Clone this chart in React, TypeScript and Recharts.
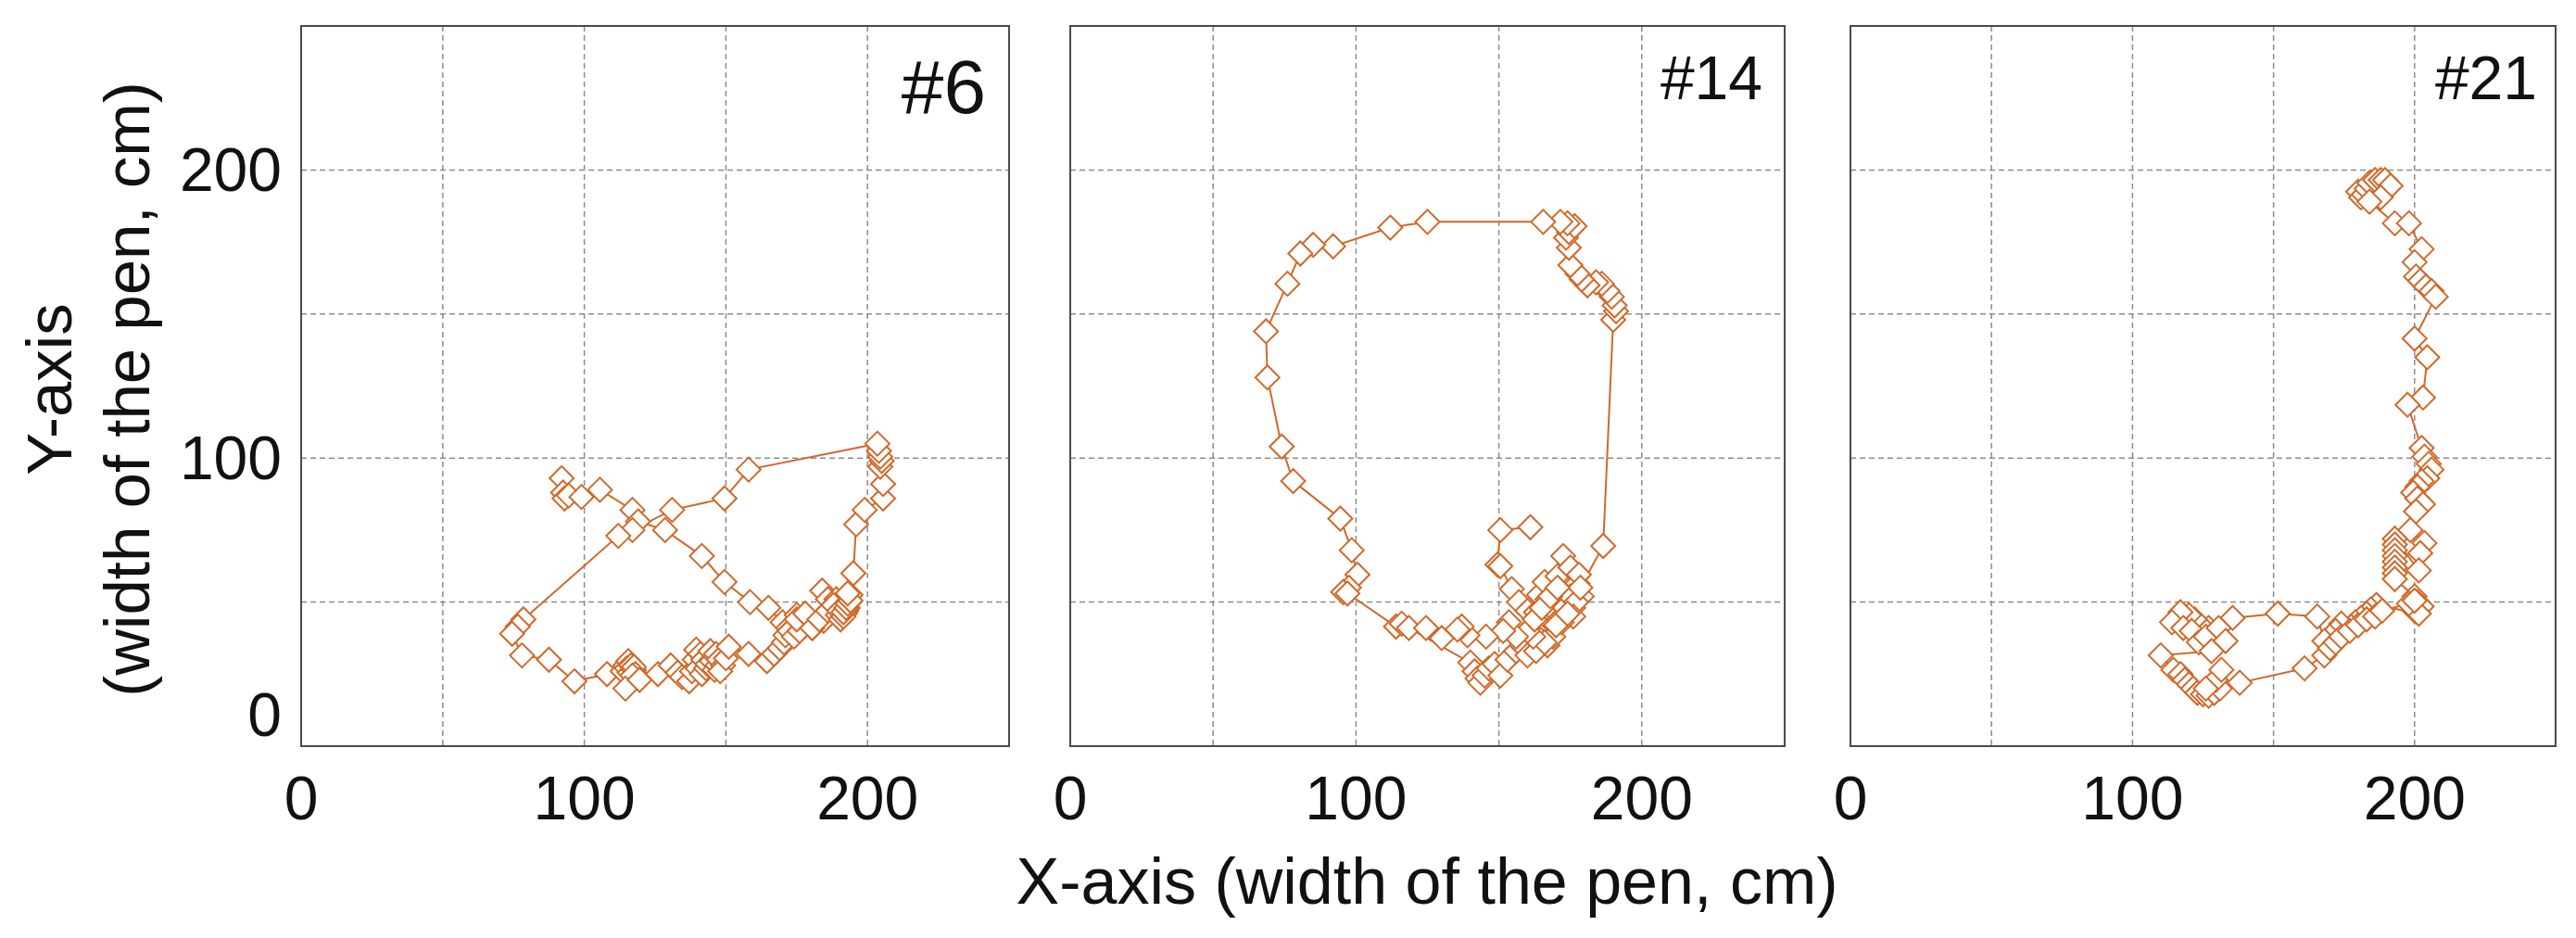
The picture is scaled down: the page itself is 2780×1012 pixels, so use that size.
import React from "react"
import { ScatterChart, Scatter, XAxis, YAxis, CartesianGrid, ReferenceArea } from "recharts"

const ORANGE = "#D0692A"
const FONT = "'Liberation Sans', Arial, Helvetica, sans-serif"

// axis ticks (grid every 50, labels every 100)
const axisTicks = [0, 50, 100, 150, 200, 250]
const labelledTicks = [0, 100, 200]

const panelNames = ["#6", "#14", "#21"]

// pen trajectories, [x, y] in cm in drawing order
const track6: [number, number][] = [
  [92, 93], [92.5, 88], [93, 86], [94.5, 87], [99, 86.5], [105.5, 89], [117, 82], [119, 78],
  [128.5, 75], [141.5, 66], [149.5, 57], [158.5, 50], [165, 48],
  [170, 43], [172, 41], [175, 45.5], [177, 42], [180.5, 41], [184.5, 43.5], [184, 54], [186, 51],
  [189, 51], [191, 49], [192.5, 47], [193.5, 50], [194, 52.5], [193, 48], [192, 46], [195, 60],
  [196, 77], [199, 82], [205.5, 86], [205.5, 91], [204.5, 97], [205, 99], [204.5, 100.5],
  [204, 102.5], [203.5, 105],
  [158, 96], [149.5, 86], [131, 82], [117, 75], [112, 73],
  [78.5, 44], [76.5, 41.5], [74.5, 39], [78, 31.5], [87.5, 30], [96.5, 22.5], [108, 25],
  [113.5, 26], [114.5, 28], [115.5, 29.5], [115, 27], [116.5, 28], [116, 25.5], [117.5, 26.5],
  [117.5, 27.5], [118, 25], [117, 24.5], [114.5, 20],
  [119.5, 23], [126, 25], [130.5, 28], [133, 25.5], [134.5, 24], [137, 22.5],
  [138, 26], [139, 30], [140, 27], [139.5, 33.5], [141, 32], [141.5, 25], [142, 30], [143, 27],
  [143.5, 28.5], [145, 29.5], [144.5, 33], [146, 26.5], [146.5, 32], [147, 28], [147.5, 30],
  [149, 28], [148, 26], [150, 30.5], [151, 34.5],
  [158, 32], [164.5, 29.5],
  [167, 32], [169, 34], [170.5, 36], [171, 38.5], [172.5, 40], [174, 38], [176, 40], [175, 44],
  [178, 46], [180.5, 41], [183, 44], [186, 47], [188, 49], [189.5, 45.5], [190, 47],
  [190.5, 44], [191.5, 45], [191.5, 46.5], [192.5, 48], [193, 49.5], [194, 50.5], [193, 53],
]

const track14: [number, number][] = [
  [161, 76], [150.5, 75], [149.5, 63], [150.5, 62.5], [154.5, 54.5], [157, 50],
  [160, 47], [163, 46.5], [164, 52.5], [166, 57], [167, 51], [169.5, 46], [170.5, 59], [172.5, 66],
  [175, 62], [177.5, 56.5], [178, 59.5], [179, 52], [176, 48], [172.5, 50], [168, 40], [165, 43],
  [163, 40], [164.5, 37], [167, 35], [169, 38], [171, 44], [173, 48], [175, 52], [177, 50],
  [176, 45], [172, 43], [170, 42], [174, 46], [178.5, 55], [186.5, 69.5],
  [190, 148], [191, 151], [190.5, 153], [189.5, 156], [188, 158], [186, 160.5], [184, 161],
  [181, 160], [179, 162], [177.5, 164], [175, 167], [174.5, 173], [173.5, 176.5], [174.5, 178.5],
  [176.5, 180.5], [174, 181.5], [171.5, 182], [165.5, 182],
  [125, 182], [112, 180], [92, 173.5], [85, 174], [80.5, 171], [76, 160.5], [68.5, 144], [69, 128],
  [74, 104], [78, 92], [94.5, 79], [98.5, 68], [100.5, 59.5], [97.5, 55], [95.5, 53.5], [97, 53],
  [114, 41.5], [116, 42.5], [118.5, 41],
  [140, 29], [141.5, 26], [142.5, 23.5], [143.5, 22], [145, 24.5], [146.5, 27], [148.5, 28.5],
  [150.5, 24.5], [153, 30], [156, 33], [158, 35], [160, 31.5], [163, 33], [166, 36], [162, 38],
  [160, 40], [162.5, 44], [165, 48], [168, 52], [170.5, 55], [156, 38], [153.5, 43],
  [151.5, 40], [145.5, 38], [139, 38.5], [137, 41.5], [135.5, 40.5], [130, 37.5], [124.5, 41],
]

const track21: [number, number][] = [
  [180, 192.5], [181, 190.5], [182, 191.5], [183, 193.5], [184, 195.5], [186, 196.5], [188, 196.5],
  [189.5, 196.5], [191.5, 194.5], [188, 190.5], [184, 189],
  [193, 181.5], [198, 181.5], [202.5, 172.5], [200, 168], [200.5, 163], [202, 161.5], [204, 159.5],
  [206, 158], [207.5, 156],
  [200, 141.5], [204.5, 135], [203, 121], [197.5, 118.5], [202.5, 103.5], [203.5, 100.5], [205, 98],
  [206, 96], [204.5, 93], [202.5, 92], [201, 90], [199.5, 88], [201, 86], [203, 84], [200.5, 81.5],
  [198.5, 75], [203.5, 70.5], [202, 67], [201.5, 61],
  [193, 72], [193, 70], [193, 68], [193, 66], [193, 64], [193, 62], [193, 60], [193, 58],
  [200, 52], [201, 50], [202.5, 48.5], [200, 47], [201.5, 46],
  [186.5, 49], [184.5, 47.5], [183, 46], [181, 44.5], [179, 43], [177.5, 41.5], [176, 40],
  [174, 42.5], [172, 40], [170, 38], [168, 36.5], [165.5, 45], [151.5, 46], [135.5, 44.5],
  [127, 41], [124, 42], [122, 44], [120, 45.5], [117, 46.5], [114, 43], [118, 41], [121, 40],
  [123.5, 36], [126, 38], [130.5, 41], [133, 36.5], [128, 33], [110, 31.5], [114.5, 26.5],
  [117, 25], [118.5, 23], [120, 21.5], [121.5, 20], [123, 18.5], [125, 18], [127, 17.5],
  [129, 18.5], [131, 20], [129.5, 23], [131.5, 26.5], [126, 20], [138, 22],
  [161, 27], [168, 31.5], [170, 34], [172, 36], [174, 38], [177, 40], [180, 42], [183, 44],
  [186, 45], [188.5, 47], [198, 49.5], [200, 50.5],
]

const toPoints = (track: [number, number][]) => track.map(([x, y]) => ({ x, y }))

const Diamond = (props: any) => {
  const { cx, cy } = props
  if (cx == null || cy == null) return null
  const r = 13
  return (
    <path
      d={`M${cx},${cy - r}L${cx + r},${cy}L${cx},${cy + r}L${cx - r},${cy}Z`}
      fill="#fff"
      stroke={ORANGE}
      strokeWidth={2}
    />
  )
}

const XTick = (props: any) => {
  const { x, y, payload } = props
  if (!labelledTicks.includes(payload.value)) return null
  return (
    <text x={x} y={y + 79} textAnchor="middle" fontSize={66} fontFamily={FONT} fill="#111">
      {payload.value}
    </text>
  )
}

const YTick = (props: any) => {
  const { x, y, payload } = props
  if (!labelledTicks.includes(payload.value)) return null
  // the "0" label sits a bit above the axis corner
  const dy = payload.value === 0 ? -11 : 23
  return (
    <text x={x - 21} y={y + dy} textAnchor="end" fontSize={66} fontFamily={FONT} fill="#111">
      {payload.value}
    </text>
  )
}

interface PanelProps {
  track: [number, number][]
  left: number
  width: number
  plotLeft: number
  plotWidth: number
  showY?: boolean
}

function Panel({ track, left, width, plotLeft, plotWidth, showY }: PanelProps) {
  const yWidth = showY ? 100 : 0
  const marginLeft = plotLeft - left - yWidth
  const marginRight = width - (plotLeft - left) - plotWidth
  return (
    <div style={{ position: "absolute", left, top: 0 }}>
      <ScatterChart
        width={width}
        height={1012}
        margin={{ top: 28, right: marginRight, bottom: 107, left: marginLeft }}
      >
        <CartesianGrid stroke="#8c8c8c" strokeDasharray="6 4" strokeWidth={1.5} />
        <XAxis
          type="number"
          dataKey="x"
          domain={[0, 250]}
          ticks={axisTicks}
          interval={0}
          height={100}
          tick={<XTick />}
          tickLine={false}
          axisLine={false}
          tickSize={0}
          tickMargin={0}
          allowDataOverflow
        />
        <YAxis
          type="number"
          dataKey="y"
          domain={[0, 250]}
          ticks={axisTicks}
          interval={0}
          width={yWidth}
          hide={!showY}
          tick={<YTick />}
          tickLine={false}
          axisLine={false}
          tickSize={0}
          tickMargin={0}
          allowDataOverflow
        />
        <ReferenceArea
          x1={0}
          x2={250}
          y1={0}
          y2={250}
          fill="none"
          stroke="#4a4a4a"
          strokeWidth={2}
          ifOverflow="visible"
        />
        <Scatter
          data={toPoints(track)}
          line={{ stroke: ORANGE, strokeWidth: 2 }}
          shape={Diamond}
          isAnimationActive={false}
        />
      </ScatterChart>
    </div>
  )
}

export default function App() {
  return (
    <div style={{ position: "relative", width: 2780, height: 1012, background: "#fff", fontFamily: FONT }}>
      <style>{"body{margin:0}"}</style>
      <Panel track={track6} left={0} width={1110} plotLeft={325} plotWidth={764} showY />
      <Panel track={track14} left={1110} width={840} plotLeft={1155} plotWidth={771} />
      <Panel track={track21} left={1950} width={830} plotLeft={1997} plotWidth={761} />
      <svg
        width={2780}
        height={1012}
        style={{ position: "absolute", left: 0, top: 0, pointerEvents: "none" }}
        fontFamily={FONT}
        fill="#111"
      >
        <text transform="translate(77,420) rotate(-90)" textAnchor="middle" fontSize={69}>
          Y-axis
        </text>
        <text transform="translate(161,420) rotate(-90)" textAnchor="middle" fontSize={69}>
          (width of the pen, cm)
        </text>
        <text x={1540} y={975} textAnchor="middle" fontSize={70}>
          X-axis (width of the pen, cm)
        </text>
        <text x={1064} y={122} textAnchor="end" fontSize={82}>
          {panelNames[0]}
        </text>
        <text x={1902} y={107} textAnchor="end" fontSize={66}>
          {panelNames[1]}
        </text>
        <text x={2738} y={107} textAnchor="end" fontSize={66}>
          {panelNames[2]}
        </text>
      </svg>
    </div>
  )
}
